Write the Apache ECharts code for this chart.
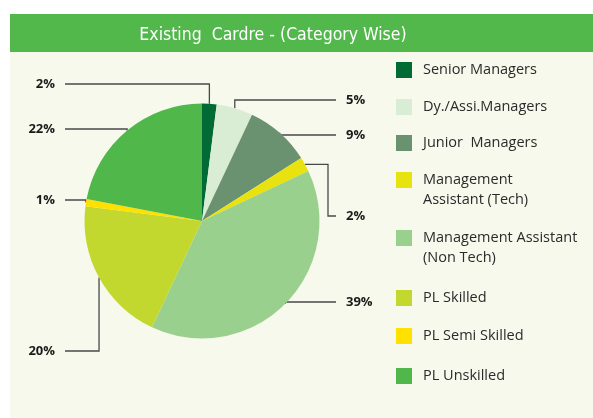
<!DOCTYPE html>
<html>
<head>
<meta charset="utf-8">
<script src="https://cdn.jsdelivr.net/npm/echarts@6/dist/echarts.min.js"></script>
<style>
  html, body { margin: 0; padding: 0; background: #fff; }
  #chart { width: 593px; height: 418px; }
</style>
</head>
<body>
<div id="chart"></div>
<script>
// data
const categories = [
  'Senior Managers',
  'Dy./Assi.Managers',
  'Junior  Managers',
  'Management\nAssistant (Tech)',
  'Management Assistant\n(Non Tech)',
  'PL Skilled',
  'PL Semi Skilled',
  'PL Unskilled'
]
const shares = [2, 5, 9, 2, 39, 20, 1, 22]
const colors = ['#006b35', '#d9ecd4', '#6b9270', '#e8e30f', '#9ad08d', '#c3d82f', '#ffe000', '#50b84b']

// where each % label sits (side, label y) and optional elbow x for the leader line
const labelSide = ['left', 'right', 'right', 'right', 'right', 'left', 'left', 'left']
const labelY = [84, 100, 135, 216, 302, 351, 200, 129]
const labelElbowX = [null, null, null, 328, null, null, null, null]
// legend icon centres
const legendY = [70, 107, 143, 180, 238, 298, 336, 376]

const LEFT_TEXT_X = 55
const LEFT_LINE_X = 65
const RIGHT_TEXT_X = 346
const RIGHT_LINE_X = 336

const chart = echarts.init(document.getElementById('chart'))

// one legend per item so the uneven spacing can be kept;
// two-line names get an empty first line so the icon sits on the first text line
const legends = categories.map((name, i) => {
  const twoLine = name.indexOf('\n') >= 0
  return {
    orient: 'vertical',
    left: 396,
    top: twoLine ? legendY[i] - 30 : legendY[i] - 10,
    padding: 0,
    itemWidth: 16,
    itemHeight: 16,
    itemGap: 0,
    icon: 'rect',
    selectedMode: false,
    data: [name],
    formatter: (n) => (n.indexOf('\n') >= 0 ? '\n' + n : n),
    textStyle: {
      fontFamily: 'Open Sans',
      fontSize: 14.5,
      color: '#2b2b2b',
      lineHeight: 20,
      padding: [0, 0, 0, 6]
    }
  }
})

chart.setOption({
  backgroundColor: '#f7f9ec',
  color: colors,
  graphic: [
    { type: 'rect', left: 0, top: 0, shape: { width: 593, height: 14 }, style: { fill: '#ffffff' }, z: -10 },
    { type: 'rect', left: 0, top: 0, shape: { width: 10, height: 418 }, style: { fill: '#ffffff' }, z: -10 },
    { type: 'rect', left: 10, top: 14, shape: { width: 583, height: 38 }, style: { fill: '#52b84c' }, z: -10 }
  ],
  title: {
    text: 'Existing  Cardre - (Category Wise)',
    left: 268,
    top: 21,
    textAlign: 'center',
    textStyle: {
      color: '#ffffff',
      fontFamily: "'DejaVu Sans Condensed', Roboto",
      fontSize: 17.5,
      fontWeight: 'normal'
    }
  },
  legend: legends,
  series: [
    {
      type: 'pie',
      center: [202, 221],
      radius: 117.5,
      startAngle: 90,
      clockwise: true,
      silent: true,
      data: categories.map((name, i) => ({ name: name, value: shares[i] })),
      label: {
        show: true,
        position: 'outside',
        formatter: '{c}%',
        fontFamily: 'Open Sans',
        fontWeight: 'bold',
        fontSize: 13,
        color: '#1a1a1a'
      },
      labelLine: {
        show: true,
        smooth: false,
        lineStyle: { color: '#4a4a4a', width: 1.3 }
      },
      labelLayout: (params) => {
        const i = params.dataIndex
        const start = params.labelLinePoints[0]
        const y = labelY[i]
        const left = labelSide[i] === 'left'
        const endX = left ? LEFT_LINE_X : RIGHT_LINE_X
        let pts
        if (labelElbowX[i] != null) {
          const ex = labelElbowX[i]
          pts = [start, [ex, start[1]], [ex, y], [endX, y]]
        } else {
          pts = [start, [start[0], y], [endX, y]]
        }
        return {
          x: left ? LEFT_TEXT_X : RIGHT_TEXT_X,
          y: y,
          align: left ? 'right' : 'left',
          verticalAlign: 'middle',
          labelLinePoints: pts
        }
      }
    }
  ]
})
</script>
</body>
</html>
